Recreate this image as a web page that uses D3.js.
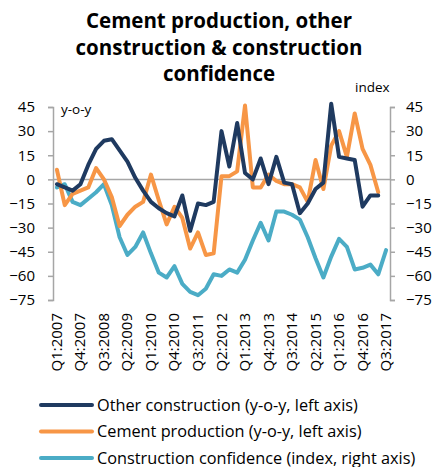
<!DOCTYPE html>
<html>
<head>
<meta charset="utf-8">
<script src="https://cdn.jsdelivr.net/npm/d3@7"></script>
<style>
  body { margin: 0; background: #fff; }
  text { font-family: "Open Sans", sans-serif; fill: #000; }
</style>
</head>
<body>
<svg width="433" height="467"></svg>
<script>
var quarters = [
  "Q1:2007", "Q2:2007", "Q3:2007", "Q4:2007",
  "Q1:2008", "Q2:2008", "Q3:2008", "Q4:2008",
  "Q1:2009", "Q2:2009", "Q3:2009", "Q4:2009",
  "Q1:2010", "Q2:2010", "Q3:2010", "Q4:2010",
  "Q1:2011", "Q2:2011", "Q3:2011", "Q4:2011",
  "Q1:2012", "Q2:2012", "Q3:2012", "Q4:2012",
  "Q1:2013", "Q2:2013", "Q3:2013", "Q4:2013",
  "Q1:2014", "Q2:2014", "Q3:2014", "Q4:2014",
  "Q1:2015", "Q2:2015", "Q3:2015", "Q4:2015",
  "Q1:2016", "Q2:2016", "Q3:2016", "Q4:2016",
  "Q1:2017", "Q2:2017", "Q3:2017"
];

// y-o-y, left axis
var otherConstruction = [-3, -5, -7, -3, 9, 19, 24, 25, 18, 11, 1, -7, -14, -18, -21, -23,
  -10, -32, -15, -16, -14, 30, 8, 35, 4, 0, 13, -3, 14, -2, -3, -21, -15, -6, -2, 47,
  14, 13, 12, -17, -10, -10];

var cementProduction = [6, -16, -9, -7, -5, 7, 0, -11, -29, -22, -17, -14, 3, -13, -28, -17,
  -24, -43, -33, -47, -46, 2, 2, 5, 46, -5, -5, 3, -1, -3, -3, -5, -14, 12, -6, 21,
  30, 14, 41, 19, 9, -8];

// index, right axis
var constructionConfidence = [-5, -3, -14, -16, -12, -8, -3, -16, -36, -47, -42, -33, -46, -58, -61, -54,
  -65, -70, -72, -68, -59, -60, -56, -58, -50, -38, -27, -38, -20, -20, -22, -25, -36, -49, -61, -48,
  -37, -42, -56, -55, -53, -59, -44];

var yTicks = [45, 30, 15, 0, -15, -30, -45, -60, -75];
var labelEvery = 3;

var legendItems = [
  { name: "Other construction (y-o-y, left axis)", color: "#1f3a60" },
  { name: "Cement production (y-o-y, left axis)", color: "#f79646" },
  { name: "Construction confidence (index, right axis)", color: "#4bacc6" }
];

var svg = d3.select("svg");
var axisColor = "#a6a6a6";

var x = d3.scaleBand().domain(quarters).range([53, 390]);
var yLeft = d3.scaleLinear().domain([-75, 45]).range([300, 107]);
var yRight = d3.scaleLinear().domain([-75, 45]).range([300, 107]);

// title
var title = ["Cement production, other", "construction & construction", "confidence"];
svg.append("g").selectAll("text")
  .data(title)
  .enter()
  .append("text")
  .attr("x", 219)
  .attr("y", function (d, i) { return 28 + i * 26.5; })
  .attr("text-anchor", "middle")
  .style("font-size", "20.5px")
  .style("font-weight", "bold")
  .text(function (d) { return d; });

// zero line
svg.append("line")
  .attr("x1", 53).attr("x2", 390)
  .attr("y1", yLeft(0)).attr("y2", yLeft(0))
  .attr("stroke", axisColor).attr("stroke-width", 1.5);

// left axis
var leftAxis = svg.append("g")
  .attr("transform", "translate(53,0)")
  .call(d3.axisLeft(yLeft).tickValues(yTicks).tickSize(5).tickPadding(13).tickFormat(d3.format("d")));

// right axis
var rightAxis = svg.append("g")
  .attr("transform", "translate(390,0)")
  .call(d3.axisRight(yRight).tickValues(yTicks).tickSize(5).tickPadding(11).tickFormat(d3.format("d")));

[leftAxis, rightAxis].forEach(function (ax) {
  ax.select(".domain").attr("stroke", axisColor).attr("stroke-width", 1.5);
  ax.selectAll(".tick line").attr("stroke", axisColor).attr("stroke-width", 1.5);
  ax.selectAll(".tick text")
    .style("font-family", "'Open Sans', sans-serif")
    .style("font-size", "15px")
    .attr("fill", "#000");
});

svg.append("text").attr("x", 61).attr("y", 114).style("font-size", "13.5px").text("y-o-y");
svg.append("text").attr("x", 355).attr("y", 92).style("font-size", "13.5px").text("index");

// x labels
svg.append("g").selectAll("text")
  .data(quarters.filter(function (d, i) { return i % labelEvery === 0; }))
  .enter()
  .append("text")
  .attr("transform", function (d) {
    return "translate(" + (x(d) + x.bandwidth() / 2 + 5) + ",313) rotate(-90)";
  })
  .attr("text-anchor", "end")
  .style("font-size", "15px")
  .text(function (d) { return d; });

// lines
var cx = function (d, i) { return x(quarters[i]) + x.bandwidth() / 2; };
var lineLeft = d3.line().x(cx).y(function (d) { return yLeft(d); });
var lineRight = d3.line().x(cx).y(function (d) { return yRight(d); });

var series = [
  { values: constructionConfidence, line: lineRight, color: legendItems[2].color },
  { values: cementProduction, line: lineLeft, color: legendItems[1].color },
  { values: otherConstruction, line: lineLeft, color: legendItems[0].color }
];

series.forEach(function (s) {
  svg.append("path")
    .datum(s.values)
    .attr("fill", "none")
    .attr("stroke", s.color)
    .attr("stroke-width", 4)
    .attr("stroke-linejoin", "round")
    .attr("stroke-linecap", "round")
    .attr("d", s.line);
});

// legend
var legend = svg.append("g").selectAll("g")
  .data(legendItems)
  .enter()
  .append("g")
  .attr("transform", function (d, i) { return "translate(0," + (405 + i * 26.5) + ")"; });

legend.append("line")
  .attr("x1", 41).attr("x2", 92)
  .attr("stroke", function (d) { return d.color; })
  .attr("stroke-width", 4)
  .attr("stroke-linecap", "round");

legend.append("text")
  .attr("x", 97)
  .attr("y", 5.5)
  .style("font-size", "16.3px")
  .text(function (d) { return d.name; });
</script>
</body>
</html>
